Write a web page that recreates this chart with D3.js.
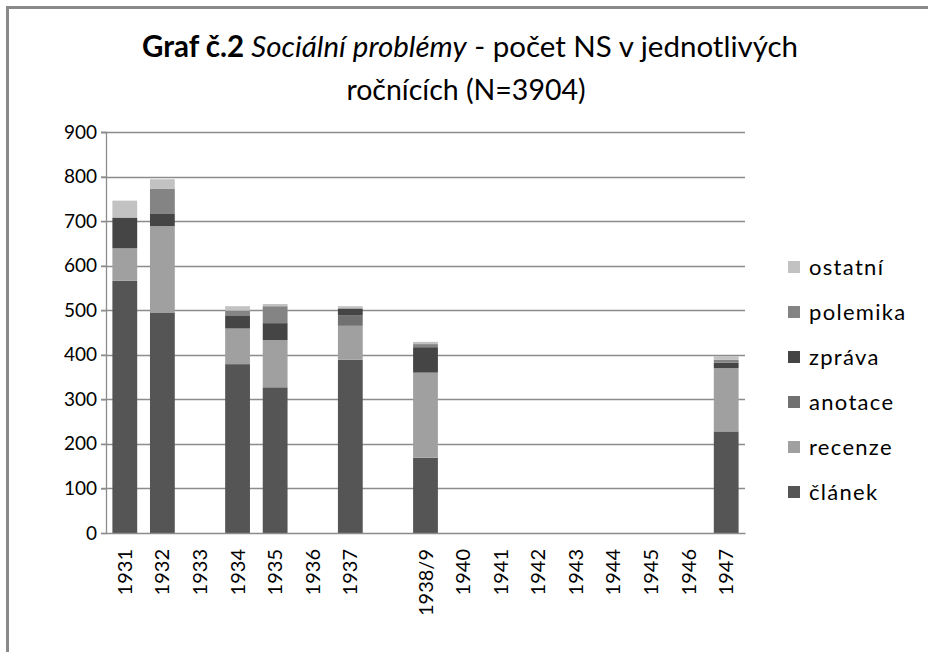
<!DOCTYPE html>
<html>
<head>
<meta charset="utf-8">
<script src="https://cdn.jsdelivr.net/npm/d3@7"></script>
<style>
  body { margin: 0; background: #fff; }
  text { font-family: Lato, "Open Sans", sans-serif; fill: #000; }
</style>
</head>
<body>
<div id="container"></div>
<script>
const categories = ['1931', '1932', '1933', '1934', '1935', '1936', '1937', ' ', '1938/9',
  '1940', '1941', '1942', '1943', '1944', '1945', '1946', '1947'];
const clanek   = [566, 495, 0, 379, 327, 0, 389, 0, 169, 0, 0, 0, 0, 0, 0, 0, 228];
const recenze  = [73, 194, 0, 80, 106, 0, 76, 0, 191, 0, 0, 0, 0, 0, 0, 0, 142];
const anotace  = [0, 0, 0, 0, 0, 0, 24, 0, 0, 0, 0, 0, 0, 0, 0, 0, 0];
const zprava   = [69, 27, 0, 28, 38, 0, 15, 0, 57, 0, 0, 0, 0, 0, 0, 0, 12];
const polemika = [0, 57, 0, 12, 38, 0, 0, 0, 7, 0, 0, 0, 0, 0, 0, 0, 7];
const ostatni  = [38, 21, 0, 10, 5, 0, 5, 0, 5, 0, 0, 0, 0, 0, 0, 0, 8];
const seriesNames = ['článek', 'recenze', 'anotace', 'zpráva', 'polemika', 'ostatní'];
const seriesValues = [clanek, recenze, anotace, zprava, polemika, ostatni];
const yTicks = [0, 100, 200, 300, 400, 500, 600, 700, 800, 900];

const width = 928;
const height = 652;
const plot = { left: 106, right: 745, top: 132, bottom: 533 };

const rows = categories.map((c, i) => {
  const r = { cat: c };
  seriesNames.forEach((s, j) => { r[s] = seriesValues[j][i]; });
  return r;
});

const color = d3.scaleOrdinal()
  .domain(seriesNames)
  .range(['#555555', '#a0a0a0', '#717171', '#454545', '#848484', '#c2c2c2']);

const x = d3.scaleBand()
  .domain(categories)
  .range([plot.left, plot.right])
  .paddingInner(0.34)
  .paddingOuter(0.17);

const y = d3.scaleLinear()
  .domain([0, 900])
  .range([plot.bottom, plot.top]);

const svg = d3.select('#container')
  .append('svg')
  .attr('width', width)
  .attr('height', height);

svg.append('rect')
  .attr('width', width)
  .attr('height', height)
  .attr('fill', '#fff');

// frame of the chart area
svg.append('rect')
  .attr('x', 7.5)
  .attr('y', 7.5)
  .attr('width', 1000)
  .attr('height', 1000)
  .attr('fill', 'none')
  .attr('stroke', '#8a8a8a')
  .attr('stroke-width', 3);

// gridlines
svg.append('g')
  .selectAll('line')
  .data(yTicks.slice(1))
  .enter()
  .append('line')
  .attr('x1', plot.left - 5)
  .attr('x2', plot.right)
  .attr('y1', d => Math.round(y(d)) + 0.5)
  .attr('y2', d => Math.round(y(d)) + 0.5)
  .attr('stroke', '#8c8c8c')
  .attr('stroke-width', 1.3);

const stack = d3.stack().keys(seriesNames);
const layers = stack(rows);

svg.append('g')
  .selectAll('g')
  .data(layers)
  .enter()
  .append('g')
  .attr('fill', d => color(d.key))
  .selectAll('rect')
  .data(d => d.filter(p => p[1] - p[0] > 0))
  .enter()
  .append('rect')
  .attr('x', d => x(d.data.cat))
  .attr('width', x.bandwidth())
  .attr('y', d => y(d[1]))
  .attr('height', d => y(d[0]) - y(d[1]));

// y axis
const yAxis = svg.append('g')
  .attr('transform', `translate(${plot.left},0)`)
  .call(d3.axisLeft(y).tickValues(yTicks).tickSize(5).tickPadding(4));
yAxis.select('.domain').attr('stroke', '#8c8c8c').attr('stroke-width', 1.3);
yAxis.selectAll('.tick line').attr('stroke', '#8c8c8c').attr('stroke-width', 1.3);
yAxis.selectAll('.tick text')
  .attr('font-size', 19)
  .attr('font-family', 'Lato, sans-serif')
  .attr('fill', '#000');

// x axis
const xAxis = svg.append('g')
  .attr('transform', `translate(0,${plot.bottom})`)
  .call(d3.axisBottom(x).tickSize(0).tickSizeOuter(0));
xAxis.select('.domain').attr('stroke', '#8c8c8c').attr('stroke-width', 1.3);
xAxis.selectAll('.tick text')
  .attr('font-size', 20)
  .attr('font-family', 'Lato, sans-serif')
  .attr('fill', '#000')
  .attr('text-anchor', 'end')
  .attr('transform', 'rotate(-90)')
  .attr('x', -16)
  .attr('y', 0)
  .attr('dy', '0.35em');

// legend
const legendNames = seriesNames.slice().reverse();
const legend = svg.append('g')
  .selectAll('g')
  .data(legendNames)
  .enter()
  .append('g')
  .attr('transform', (d, i) => `translate(788,${267 + i * 45})`);

legend.append('rect')
  .attr('x', 0)
  .attr('y', -6)
  .attr('width', 12)
  .attr('height', 12)
  .attr('fill', d => color(d));

legend.append('text')
  .attr('x', 21)
  .attr('dy', '0.35em')
  .attr('font-size', 22)
  .attr('letter-spacing', 1.3)
  .text(d => d);

// title
const title = svg.append('text')
  .attr('x', 470)
  .attr('y', 57)
  .attr('text-anchor', 'middle')
  .attr('font-size', 29.5);
title.append('tspan').attr('font-weight', 'bold').text('Graf č.2 ');
title.append('tspan').attr('font-style', 'italic').text('Sociální problémy');
title.append('tspan').text(' - počet NS v jednotlivých');

svg.append('text')
  .attr('x', 466)
  .attr('y', 100)
  .attr('text-anchor', 'middle')
  .attr('font-size', 28.5)
  .text('ročnících (N=3904)');
</script>
</body>
</html>
